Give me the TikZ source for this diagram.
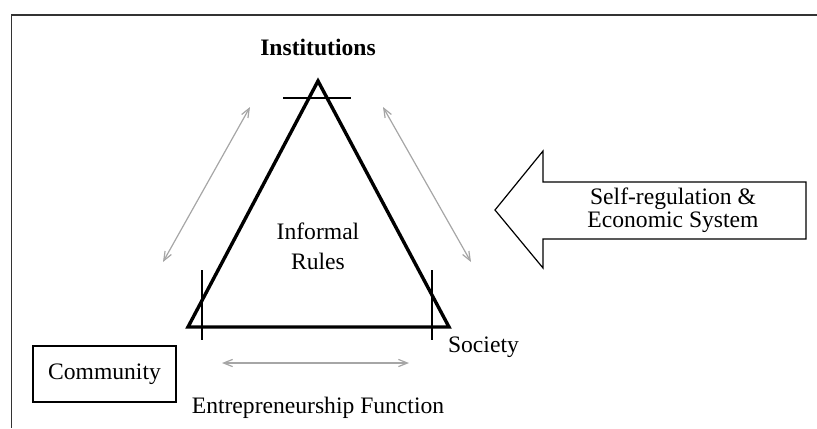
\documentclass[tikz,border=0pt]{standalone}
\usepackage{fontspec}
\setmainfont{Liberation Serif}
\usetikzlibrary{arrows.meta}
\begin{document}
\begin{tikzpicture}[x=0.5pt,y=-0.5pt, font=\fontsize{11.8}{13.4}\selectfont, line join=miter, >={Straight Barb[length=4.5pt,width=3.6pt]},
  frameline/.style={draw=black!80, line width=0.65pt},
  tri/.style={line width=1.7pt},
  tick/.style={line width=0.6pt},
  flow/.style={<->, draw=black!35, line width=0.6pt},
  box/.style={draw, line width=0.6pt, minimum width=71.5pt, minimum height=28pt, inner sep=0pt}]
\useasboundingbox (0,0) rectangle (817,428);
\draw[frameline] (817,15) -- (11.5,15) -- (11.5,428);
% triangle and its ticks
\coordinate (top) at (318,81);
\coordinate (left) at (188,327);
\coordinate (right) at (449,327);
\draw[tri] (top) -- (left) -- (right) -- cycle;
\draw[tick] (283,98) -- (351,98) (202,270) -- (202,340) (432,270) -- (432,340);
\node[font=\fontsize{11.8}{13.4}\selectfont\bfseries] (inst) at (318,47) {Institutions};
\node[align=center] (informal) at (318,246) {Informal\\[1.6pt]Rules};
\node[anchor=west] (society) at (441,347) {Society};
\node[box] (community) at (104.5,374) {Community};
\node (entre) at (318,408) {Entrepreneurship Function};
% grey two-way arrows
\coordinate (l1) at (163,262); \coordinate (l2) at (250,107);
\coordinate (r1) at (383,107); \coordinate (r2) at (471,262);
\coordinate (b1) at (222,363); \coordinate (b2) at (409,363);
\draw[flow] (l1) -- (l2);
\draw[flow] (r1) -- (r2);
\draw[flow] (b1) -- (b2);
% big arrow
\draw[line width=0.6pt] (495,210) -- (543,151) -- (543,182) -- (806,182) -- (806,239) -- (543,239) -- (543,268) -- cycle;
\node[align=center] (selfreg) at (673,210) {Self-regulation \&\\[-1.7pt]Economic System};
\end{tikzpicture}
\end{document}
